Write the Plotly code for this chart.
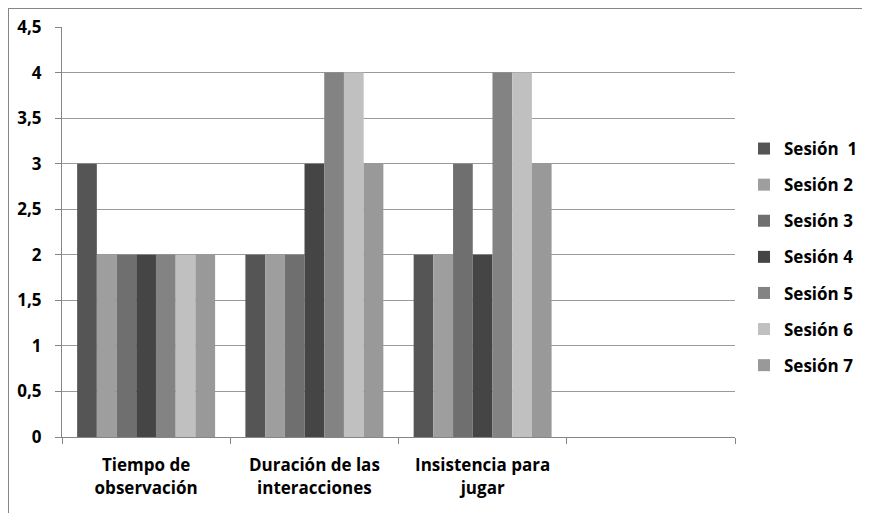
import plotly.graph_objects as go

categories = ["Tiempo de<br>observación", "Duración de las<br>interacciones", "Insistencia para<br>jugar", " "]
series_names = ["Sesión  1", "Sesión 2", "Sesión 3", "Sesión 4", "Sesión 5", "Sesión 6", "Sesión 7"]
values = {
    "Sesión  1": [3, 2, 2, None],
    "Sesión 2": [2, 2, 2, None],
    "Sesión 3": [2, 2, 3, None],
    "Sesión 4": [2, 3, 2, None],
    "Sesión 5": [2, 4, 4, None],
    "Sesión 6": [2, 4, 4, None],
    "Sesión 7": [2, 3, 3, None],
}
colors = ["#555555", "#9e9e9e", "#6f6f6f", "#454545", "#838383", "#c0c0c0", "#999999"]
y_ticks = [0, 0.5, 1, 1.5, 2, 2.5, 3, 3.5, 4, 4.5]
y_tick_text = ["0", "0,5", "1", "1,5", "2", "2,5", "3", "3,5", "4", "4,5"]

FONT = "'Open Sans', Lato, sans-serif"

fig = go.Figure()
for name, col in zip(series_names, colors):
    fig.add_trace(go.Bar(
        x=categories, y=values[name], name=name, legendgroup=name,
        marker=dict(color=col, line=dict(width=0)),
    ))

OFF = 8  # page offset of the figure div
W, H = 870 - OFF, 513 - OFF
# plot area in page pixels
PL, PR, PT, PB = 62, 735, 27, 437
L, R, T, B = PL - OFF, W - (PR - OFF), PT - OFF, H - (PB - OFF)
pw, ph = W - L - R, H - T - B

def px_to_paper_x(px):
    return (px - OFF - L) / pw

def px_to_paper_y(py):
    return (H - B - (py - OFF)) / ph

fig.update_layout(
    width=W, height=H,
    margin=dict(l=L, r=R, t=T, b=B, autoexpand=False),
    paper_bgcolor="white", plot_bgcolor="white",
    barmode="group", bargap=0.18, bargroupgap=0,
    font=dict(family=FONT, size=16, color="#000000"),
    xaxis=dict(
        type="category", tickson="boundaries", ticks="outside", ticklen=6,
        tickcolor="#868686", showline=True, linecolor="#868686", linewidth=1,
        showgrid=False, range=[-0.5, 3.5], ticklabelstandoff=13,
        tickfont=dict(family=FONT, size=17, color="black", weight="bold"),
    ),
    yaxis=dict(
        range=[0, 4.5], tickvals=y_ticks, ticktext=y_tick_text,
        ticks="outside", ticklen=6, tickcolor="#868686",
        showline=True, linecolor="#868686", linewidth=1,
        showgrid=True, gridcolor="#9a9a9a", gridwidth=1, zeroline=False,
        tickfont=dict(family=FONT, size=17, color="black", weight="bold"),
        ticklabelstandoff=10,
    ),
    legend=dict(
        x=px_to_paper_x(744), y=px_to_paper_y(131), xanchor="left", yanchor="top",
        font=dict(family=FONT, size=17, color="black", weight="bold"),
        tracegroupgap=11, itemwidth=30, traceorder="grouped",
        bgcolor="rgba(0,0,0,0)",
    ),
    shapes=[
        dict(type="line", xref="paper", yref="paper",
             x0=px_to_paper_x(8), x1=px_to_paper_x(870), y0=px_to_paper_y(8.5), y1=px_to_paper_y(8.5),
             line=dict(color="#868686", width=1)),
        dict(type="line", xref="paper", yref="paper",
             x0=px_to_paper_x(8.5), x1=px_to_paper_x(8.5), y0=px_to_paper_y(8), y1=px_to_paper_y(513),
             line=dict(color="#868686", width=1)),
    ],
)

fig.write_html("out.html")
